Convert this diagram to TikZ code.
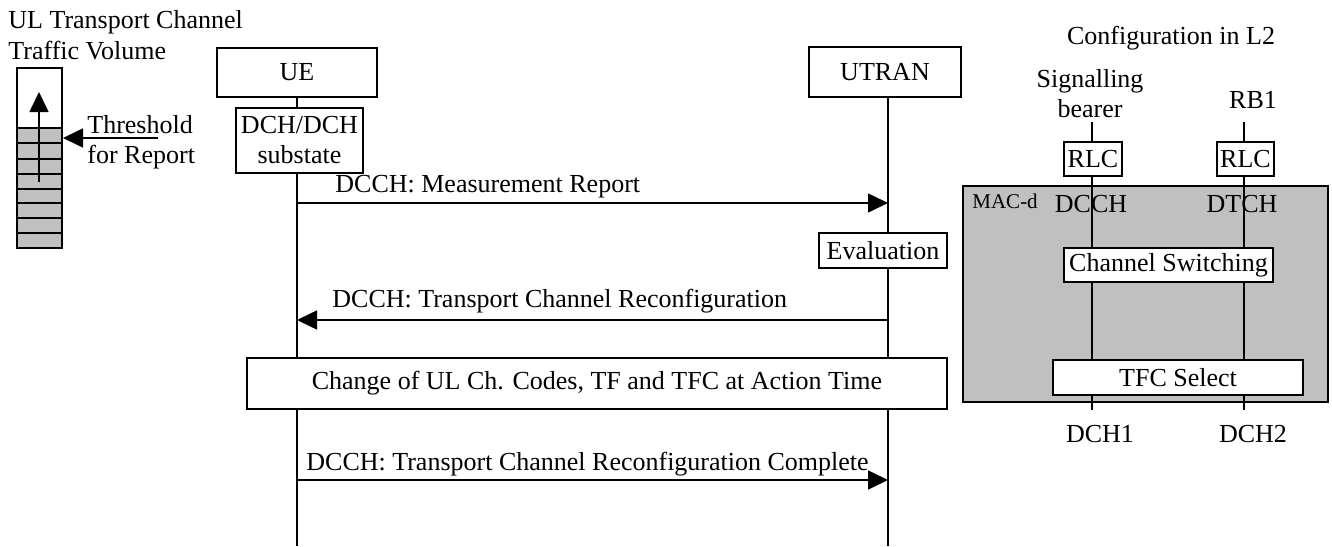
\documentclass[tikz,border=0pt]{standalone}
\usepackage{fontspec}
\setmainfont{Liberation Serif}
\usetikzlibrary{arrows.meta}
\definecolor{macgray}{RGB}{192,192,192}
\newcommand\fsz{\fontsize{13}{15}\selectfont}
\newcommand\fsm{\fontsize{10.5}{12}\selectfont}
\tikzset{
  box/.style={draw, line width=0.8pt, fill=white, inner sep=0pt, font=\fsz, align=center},
  ln/.style={line width=0.8pt},
  msg/.style={line width=0.8pt, -{Triangle[length=10pt,width=9.5pt]}},
  lbl/.style={inner sep=0pt, font=\fsz},
}
\begin{document}
\begin{tikzpicture}[x=0.5pt,y=-0.5pt]
\useasboundingbox (0,0) rectangle (1332,546);

% ---------- left traffic volume bar ----------
\node[lbl, anchor=base west] (t1) at (8,28) {UL Transport Channel};
\node[lbl, anchor=base west] (t2) at (8,59) {Traffic Volume};
\fill[macgray] (17,128) rectangle (62,248);
\foreach \yy in {128,143,159,174,189,203,218,233}
  \draw[ln] (17,\yy) -- (62,\yy);
\node[draw, line width=0.8pt, inner sep=0pt, minimum width=22.5pt, minimum height=90pt] (bar) at (39.5,158) {};
\coordinate (upS) at (39,182);
\coordinate (upE) at (39,92);
\draw[msg] (upS) -- (upE);
\node[lbl, anchor=base west] (thr) at (87,133) {Threshold};
\node[lbl, anchor=base west] (for) at (87,163) {for Report};
\coordinate (thrS) at (158,138);
\coordinate (thrE) at (63,138);
\draw[msg] (thrS) -- (thrE);

% ---------- lifelines ----------
\node[box, minimum width=80pt, minimum height=24.5pt] (ue) at (297,72.5) {UE};
\node[box, minimum width=76pt, minimum height=25pt] (utran) at (885,72) {UTRAN};
\coordinate (ueEnd) at (297,546);
\coordinate (utEnd) at (888,546);
\draw[ln] (297,97) -- (ueEnd);
\draw[ln] (888,97) -- (utEnd);

\node[box, minimum width=63.5pt, minimum height=32.5pt] (dch) at (299.5,140.5) {DCH/DCH\\substate};
\node[box, minimum width=64pt, minimum height=17.5pt] (eval) at (883,250.5) {Evaluation};
\node[box, minimum width=350pt, minimum height=25.5pt] (chg) at (597,383.5) {Change of UL Ch. Codes, TF and TFC at Action Time};

% ---------- messages ----------
\coordinate (m1s) at (297,203); \coordinate (m1e) at (888,203);
\coordinate (m2s) at (888,320); \coordinate (m2e) at (297,320);
\coordinate (m3s) at (297,480); \coordinate (m3e) at (888,480);
\draw[msg] (m1s) -- (m1e);
\draw[msg] (m2s) -- (m2e);
\draw[msg] (m3s) -- (m3e);
\node[lbl, anchor=base west] (l1) at (335,192) {DCCH: Measurement Report};
\node[lbl, anchor=base west] (l2) at (332,307) {DCCH: Transport Channel Reconfiguration};
\node[lbl, anchor=base west] (l3) at (306,470) {DCCH: Transport Channel Reconfiguration Complete};

% ---------- configuration in L2 ----------
\node[lbl, anchor=base] (cfg) at (1171,44) {Configuration in L2};
\node[lbl, anchor=base] (sig) at (1090,87) {Signalling};
\node[lbl, anchor=base] (bea) at (1090,117) {bearer};
\node[lbl, anchor=base] (rb1) at (1253,108) {RB1};

\node[draw, line width=0.8pt, fill=macgray, inner sep=0pt, minimum width=182.5pt, minimum height=108pt] (mac) at (1145.5,294) {};
\coordinate (c1t) at (1092,122); \coordinate (c1b) at (1092,410);
\coordinate (c2t) at (1244,122); \coordinate (c2b) at (1244,410);
\draw[ln] (c1t) -- (c1b);
\draw[ln] (c2t) -- (c2b);
\node[inner sep=0pt, font=\fsm, anchor=base west] (macd) at (972,208) {MAC-d};
\node[lbl, anchor=base] (dcch) at (1091,212) {DCCH};
\node[lbl, anchor=base] (dtch) at (1242,212) {DTCH};

\node[box, minimum width=29pt, minimum height=17pt] (rlc1) at (1093,159) {RLC};
\node[box, minimum width=28.5pt, minimum height=17pt] (rlc2) at (1245.5,159) {RLC};
\node[box, minimum width=104.5pt, minimum height=17pt] (chsw) at (1168.5,265) {Channel Switching};
\node[box, minimum width=125pt, minimum height=17.5pt] (tfc) at (1178,377.5) {TFC Select};

\node[lbl, anchor=base] (dch1) at (1100,442) {DCH1};
\node[lbl, anchor=base] (dch2) at (1253,442) {DCH2};
\end{tikzpicture}
\end{document}
